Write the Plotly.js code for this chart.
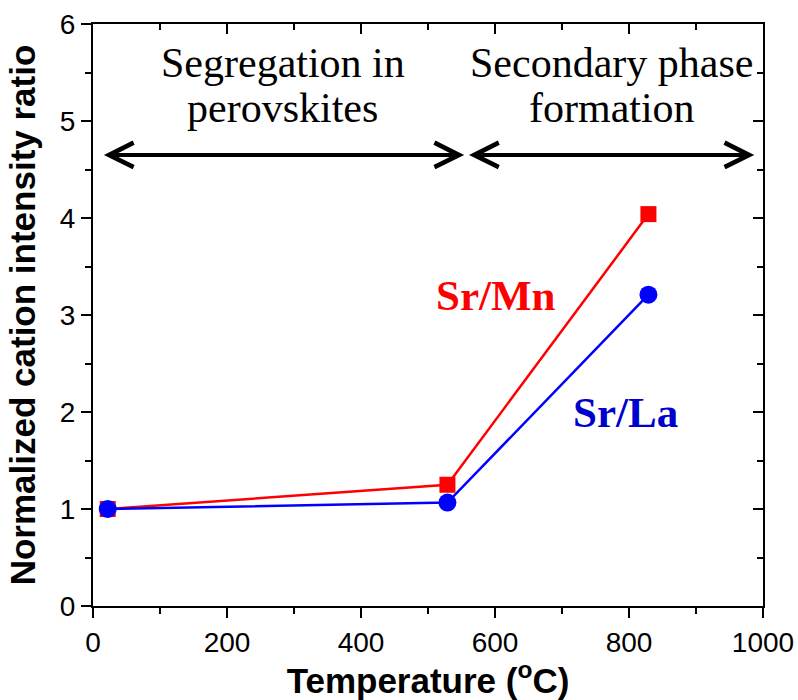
<!DOCTYPE html>
<html>
<head>
<meta charset="utf-8">
<script src="https://cdn.plot.ly/plotly-3.0.1.min.js"></script>
<style>html,body{margin:0;padding:0;background:#fff;}#chart{width:798px;height:700px;}</style>
</head>
<body>
<div id="chart"></div>
<script>
// Data
const temperature = [22, 529, 829];
const srMn = [1.0, 1.25, 4.04];
const srLa = [1.0, 1.066, 3.21];
const xTickVals = [0, 200, 400, 600, 800, 1000];
const yTickVals = [0, 1, 2, 3, 4, 5, 6];

const sans = "Liberation Sans, Arial, sans-serif";
const serif = "Liberation Serif, Times New Roman, serif";

const traces = [
  {x: temperature, y: srMn, name: 'Sr/Mn', mode: 'lines+markers', type: 'scatter',
   line: {color: '#ff0000', width: 2.5}, marker: {symbol: 'square', size: 16, color: '#ff0000'}},
  {x: temperature, y: srLa, name: 'Sr/La', mode: 'lines+markers', type: 'scatter',
   line: {color: '#0000ff', width: 2.5}, marker: {symbol: 'circle', size: 18, color: '#0000ff'}}
];

const axisCommon = {
  showgrid: false, zeroline: false, showline: true, linecolor: '#000', linewidth: 2,
  ticks: 'outside', ticklen: 10, tickwidth: 2, tickcolor: '#000',
  tickfont: {family: sans, size: 28, color: '#000'}
};

const layout = {
  width: 798, height: 700,
  margin: {l: 93, r: 35, t: 24, b: 94},
  paper_bgcolor: '#fff', plot_bgcolor: '#fff',
  showlegend: false,
  xaxis: Object.assign({}, axisCommon, {
    range: [0, 1000], tickvals: xTickVals,
    minor: {dtick: 100, ticks: 'outside', ticklen: 6, tickwidth: 2, tickcolor: '#000'},
    title: {text: 'Temperature (<sup>o</sup>C)', standoff: 6,
            font: {family: sans, size: 35, color: '#000', weight: 'bold'}}
  }),
  yaxis: Object.assign({}, axisCommon, {
    range: [0, 6], tickvals: yTickVals,
    minor: {dtick: 0.5, ticks: 'outside', ticklen: 6, tickwidth: 2, tickcolor: '#000'},
    title: {text: 'Normalized cation intensity ratio', standoff: 14,
            font: {family: sans, size: 35, color: '#000', weight: 'bold'}}
  }),
  xaxis2: {overlaying: 'x', side: 'top', range: [0, 1000], showgrid: false, zeroline: false,
    showline: true, linecolor: '#000', linewidth: 2, ticks: 'inside', ticklen: 10, tickwidth: 2,
    tickcolor: '#000', tickvals: xTickVals, showticklabels: false,
    minor: {dtick: 100, ticks: 'inside', ticklen: 6, tickwidth: 2, tickcolor: '#000'}},
  yaxis2: {overlaying: 'y', side: 'right', anchor: 'x', range: [0, 6], showgrid: false, zeroline: false,
    showline: true, linecolor: '#000', linewidth: 2, ticks: 'inside', ticklen: 10, tickwidth: 2,
    tickcolor: '#000', tickvals: yTickVals, showticklabels: false,
    minor: {dtick: 0.5, ticks: 'inside', ticklen: 6, tickwidth: 2, tickcolor: '#000'}},
  annotations: [
    {x: 283, y: 5.595, xref: 'x', yref: 'y', showarrow: false,
     text: 'Segregation in', font: {family: serif, size: 42, color: '#000'}},
    {x: 283, y: 5.13, xref: 'x', yref: 'y', showarrow: false,
     text: 'perovskites', font: {family: serif, size: 42, color: '#000'}},
    {x: 774, y: 5.595, xref: 'x', yref: 'y', showarrow: false,
     text: 'Secondary phase', font: {family: serif, size: 42, color: '#000'}},
    {x: 774, y: 5.13, xref: 'x', yref: 'y', showarrow: false,
     text: 'formation', font: {family: serif, size: 42, color: '#000'}},
    {x: 602, y: 3.2, xref: 'x', yref: 'y', showarrow: false,
     text: '<b>Sr/Mn</b>', font: {family: serif, size: 43, color: '#ff0000'}},
    {x: 795, y: 1.99, xref: 'x', yref: 'y', showarrow: false,
     text: '<b>Sr/La</b>', font: {family: serif, size: 43, color: '#0000cc'}},
    {x: 554, y: 4.65, ax: 14, ay: 4.65, xref: 'x', yref: 'y', axref: 'x', ayref: 'y',
     text: '', showarrow: true, arrowhead: 5, startarrowhead: 5, arrowside: 'end+start',
     arrowwidth: 4, arrowsize: 1.2, startarrowsize: 1.2, arrowcolor: '#000'},
    {x: 987, y: 4.65, ax: 559, ay: 4.65, xref: 'x', yref: 'y', axref: 'x', ayref: 'y',
     text: '', showarrow: true, arrowhead: 5, startarrowhead: 5, arrowside: 'end+start',
     arrowwidth: 4, arrowsize: 1.2, startarrowsize: 1.2, arrowcolor: '#000'}
  ]
};

// invisible trace to activate the mirrored (inside-tick) axes
traces.push({x: [0], y: [0], xaxis: 'x2', yaxis: 'y2', mode: 'markers', marker: {opacity: 0}, hoverinfo: 'skip', showlegend: false});

Plotly.newPlot('chart', traces, layout, {displayModeBar: false, staticPlot: true});
</script>
</body>
</html>
